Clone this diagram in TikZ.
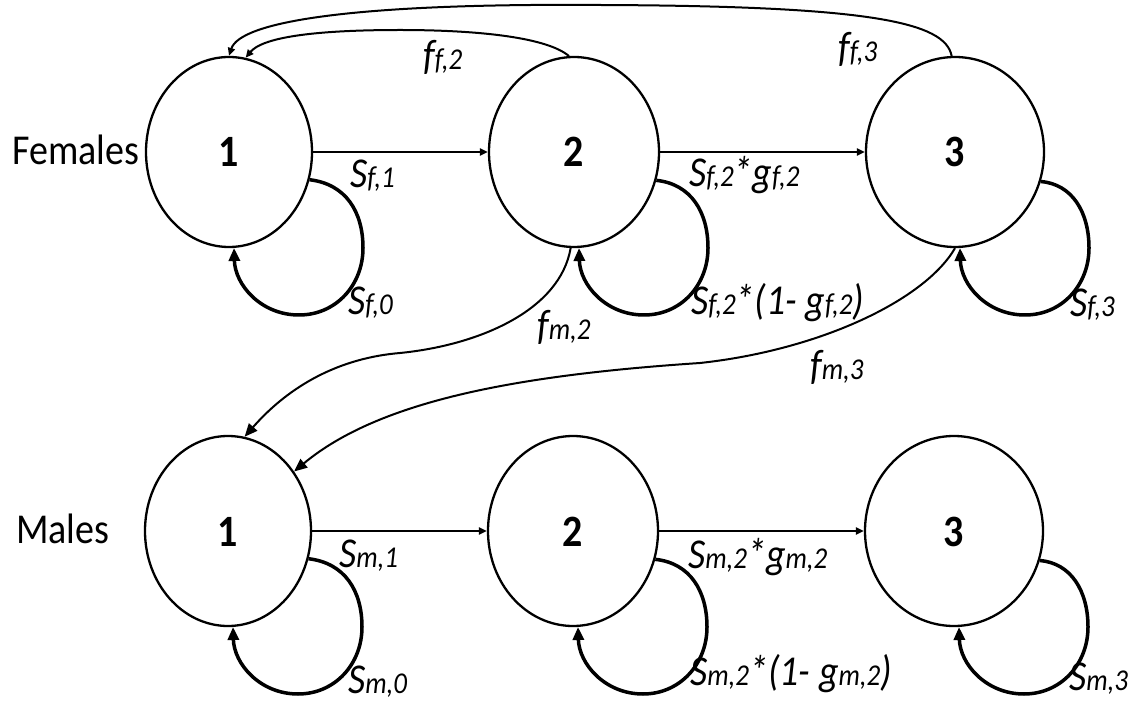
\documentclass[tikz,border=0pt]{standalone}
\usepackage{fontspec}
\setmainfont{Carlito}
\usetikzlibrary{shapes.geometric,arrows.meta,calc}
\newcommand{\sbx}[1]{{\fontsize{27}{27}\selectfont #1}}
\newcommand{\vs}[1]{\scalebox{1}[1.12]{#1}}
\begin{document}
\begin{tikzpicture}[x=1pt,y=1pt,
  state/.style={ellipse, draw, line width=2.3pt, inner sep=0pt, minimum height=190pt,
    font=\fontsize{40}{40}\selectfont\bfseries, text height=30pt, text depth=0pt},
  grp/.style={font=\fontsize{38}{38}\selectfont, anchor=base west, inner sep=0pt},
  lab/.style={font=\fontsize{38}{38}\selectfont\itshape, anchor=base west, inner sep=0pt},
  flow/.style={line width=2pt, -{Triangle[length=8pt,width=7pt]}},
  arcln/.style={line width=2pt, -{Triangle[length=8pt,width=7pt]}},
  marc/.style={line width=2pt, -{Triangle[length=13pt,width=11pt]}},
  loopln/.style={line width=3.5pt, -{Triangle[length=13pt,width=11pt]}}]
\useasboundingbox[fill=white] (0,0) rectangle (1133,-703);

% states
\node[state, minimum width=166pt] (F1) at (229,-152) {\vs{1}};
\node[state, minimum width=170pt] (F2) at (574,-152) {\vs{2}};
\node[state, minimum width=178pt] (F3) at (955,-152) {\vs{3}};
\node[state, minimum width=166pt] (M1) at (228,-531) {\vs{1}};
\node[state, minimum width=170pt] (M2) at (573,-531) {\vs{2}};
\node[state, minimum width=178pt] (M3) at (954,-531) {\vs{3}};

% group labels
\node[grp] (fem) at (12,-165) {\vs{Females}};
\node[grp] (mal) at (16,-543) {\vs{Males}};

% transitions
\draw[flow] (F1) -- (F2);
\draw[flow] (F2) -- (F3);
\draw[flow] (M1) -- (M2);
\draw[flow] (M2) -- (M3);

% self loops
\foreach \n in {F1,F2,F3,M1,M2,M3}{
  \draw[loopln] (\n.-19) .. controls ($(\n.center)+(117,-32)$) and ($(\n.center)+(134,-60)$)
    .. ($(\n.center)+(134,-96)$) .. controls ($(\n.center)+(134,-133)$) and ($(\n.center)+(107,-163)$)
    .. ($(\n.center)+(70,-163)$) .. controls ($(\n.center)+(32,-163)$) and ($(\n.center)+(6,-133)$)
    .. (\n.-87);
}

% fecundity arcs
\draw[arcln] (F2.93) .. controls (545,-36) and (470,-30) .. (400,-30)
  .. controls (310,-30) and (262,-38) .. (F1.80);
\draw[arcln] (F3.92) .. controls (945,-22) and (870,-6) .. (600,-5)
  .. controls (350,-3) and (240,-22) .. (F1.90);
\draw[marc] (F2.-92) .. controls (560,-310) and (480,-345) .. (400,-353)
  .. controls (340,-358) and (290,-385) .. (M1.80);
\draw[marc] (F3.-90) .. controls (925,-300) and (820,-350) .. (700,-363)
  .. controls (520,-375) and (380,-400) .. (M1.42);

% labels
\node[lab] (lf1) at (350,-188) {\vs{S\sbx{f,1}}};
\node[lab] (lf2) at (689,-187) {\vs{S\sbx{f,2}*g\sbx{f,2}}};
\node[lab] (lf0) at (348,-315) {\vs{S\sbx{f,0}}};
\node[lab] (lf22) at (691,-315) {\vs{S\sbx{f,2}*(1- g\sbx{f,2})}};
\node[lab] (lf3) at (1070,-317) {\vs{S\sbx{f,3}}};
\node[lab] (ff2) at (423,-70) {\vs{f\sbx{f,2}}};
\node[lab] (ff3) at (838,-62) {\vs{f\sbx{f,3}}};
\node[lab] (fm2) at (537,-340) {\vs{f\sbx{m,2}}};
\node[lab] (fm3) at (810,-380) {\vs{f\sbx{m,3}}};
\node[lab] (lm1) at (339,-567) {\vs{S\sbx{m,1}}};
\node[lab] (lm2) at (688,-568) {\vs{S\sbx{m,2}*g\sbx{m,2}}};
\node[lab] (lm0) at (348,-693) {\vs{S\sbx{m,0}}};
\node[lab] (lm22) at (690,-685) {\vs{S\sbx{m,2}*(1- g\sbx{m,2})}};
\node[lab] (lm3) at (1069,-690) {\vs{S\sbx{m,3}}};
\end{tikzpicture}
\end{document}
